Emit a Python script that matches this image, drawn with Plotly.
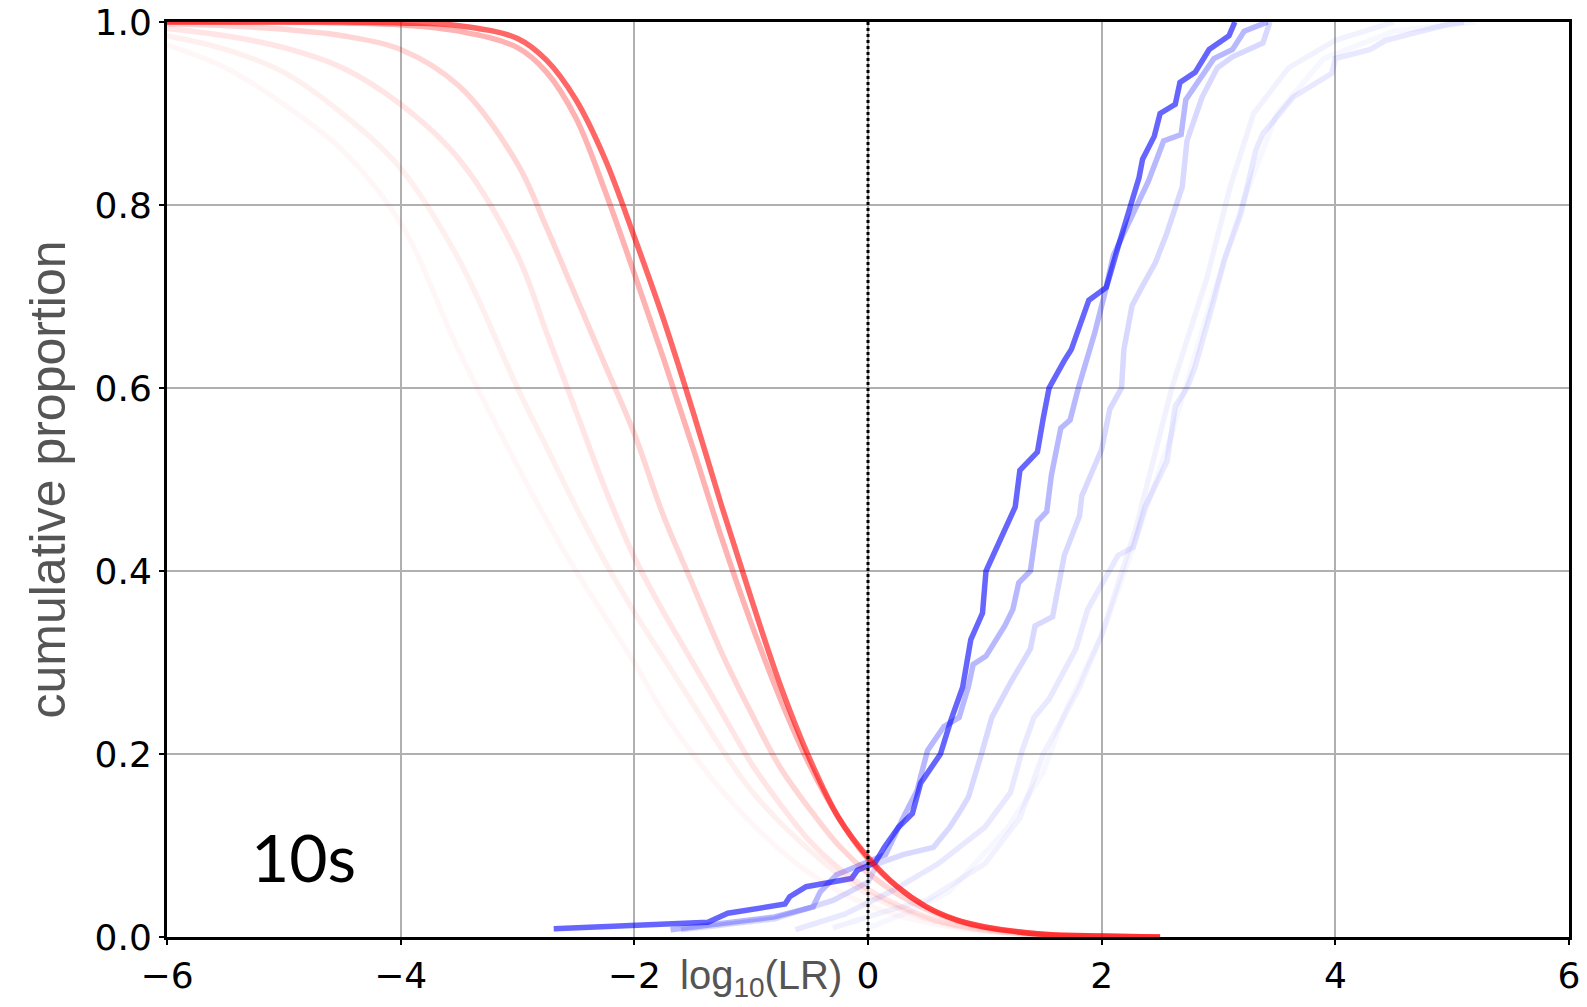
import plotly.graph_objects as go

# ---------------- data ----------------
red_x = [-6, -5.5, -5, -4.5, -4, -3.5, -3, -2.75, -2.5, -2.25, -2, -1.75, -1.5,
         -1.25, -1, -0.75, -0.5, -0.25, 0, 0.25, 0.5, 0.75, 1, 1.5, 2, 2.5]

red_a = [1.0, 1.0, 1.0, 1.0, 0.999, 0.996, 0.982, 0.958, 0.915, 0.85, 0.765, 0.675, 0.575,
         0.47, 0.37, 0.275, 0.195, 0.13, 0.087, 0.055, 0.033, 0.019, 0.011, 0.003, 0.001, 0.0]
red_b = [1.0, 1.0, 1.0, 0.999, 0.997, 0.99, 0.972, 0.945, 0.895, 0.815, 0.725, 0.632, 0.535,
         0.435, 0.343, 0.26, 0.188, 0.13, 0.085, 0.055, 0.033, 0.019, 0.011, 0.003, 0.001, 0.0]
red_c = [0.998, 0.996, 0.992, 0.985, 0.97, 0.93, 0.845, 0.775, 0.7, 0.625, 0.55, 0.46, 0.385,
         0.31, 0.245, 0.185, 0.14, 0.1, 0.07, 0.047, 0.03, 0.018, 0.01, 0.003, 0.001, 0.0]
red_d = [0.993, 0.985, 0.972, 0.95, 0.91, 0.85, 0.745, 0.66, 0.575, 0.49, 0.415, 0.355, 0.3,
         0.245, 0.19, 0.145, 0.105, 0.075, 0.052, 0.035, 0.022, 0.013, 0.008, 0.002, 0.001, 0.0]
red_e = [0.985, 0.97, 0.945, 0.9, 0.84, 0.74, 0.6, 0.535, 0.47, 0.41, 0.355, 0.305, 0.255,
         0.205, 0.16, 0.125, 0.095, 0.068, 0.047, 0.032, 0.02, 0.012, 0.007, 0.002, 0.001, 0.0]
red_f = [0.975, 0.95, 0.91, 0.86, 0.78, 0.64, 0.515, 0.455, 0.4, 0.35, 0.3, 0.245, 0.2,
         0.16, 0.125, 0.095, 0.07, 0.05, 0.035, 0.024, 0.016, 0.01, 0.006, 0.002, 0.0, 0.0]

blue_a_x = [-2.69, -1.37, -1.2, -0.71, -0.67, -0.53, -0.14, -0.09, 0.06, 0.14, 0.26, 0.38, 0.45,
            0.62, 0.71, 0.81, 0.88, 0.98, 1.01, 1.1, 1.26, 1.3, 1.45, 1.5, 1.55, 1.68, 1.74,
            1.89, 2.04, 2.14, 2.25, 2.32, 2.35, 2.45, 2.5, 2.63, 2.67, 2.8, 2.92, 3.09, 3.14]
blue_a_y = [0.009, 0.016, 0.026, 0.036, 0.044, 0.055, 0.064, 0.073, 0.081, 0.098, 0.12, 0.135, 0.168,
            0.2, 0.237, 0.273, 0.325, 0.354, 0.4, 0.426, 0.47, 0.51, 0.53, 0.567, 0.6, 0.63, 0.642,
            0.696, 0.71, 0.754, 0.8, 0.83, 0.85, 0.875, 0.9, 0.91, 0.934, 0.945, 0.97, 0.985, 1.0]

blue_b_x = [-1.69, -1.2, -0.8, -0.47, -0.41, -0.27, -0.07, 0.04, 0.15, 0.3, 0.42, 0.45, 0.51,
            0.65, 0.78, 0.86, 0.9, 1.01, 1.12, 1.17, 1.24, 1.29, 1.39, 1.45, 1.53, 1.57, 1.65,
            1.73, 1.8, 1.94, 2.02, 2.1, 2.4, 2.53, 2.68, 2.72, 2.8, 2.96, 3.12, 3.22, 3.42]
blue_b_y = [0.008, 0.015, 0.022, 0.033, 0.049, 0.068, 0.079, 0.084, 0.09, 0.13, 0.16, 0.175, 0.204,
            0.23, 0.24, 0.274, 0.298, 0.307, 0.328, 0.34, 0.358, 0.387, 0.4, 0.454, 0.465, 0.505, 0.556,
            0.565, 0.6, 0.66, 0.7, 0.745, 0.826, 0.87, 0.877, 0.915, 0.93, 0.96, 0.97, 0.99, 1.0]

blue_c_x = [-1.6, -0.8, -0.3, 0.0, 0.08, 0.3, 0.56, 0.7, 0.8, 0.86, 0.98, 1.06, 1.22, 1.39,
            1.43, 1.58, 1.68, 1.81, 1.83, 2.0, 2.07, 2.17, 2.19, 2.26, 2.33, 2.46, 2.56, 2.69,
            2.73, 2.83, 2.86, 2.99, 3.12, 3.38, 3.44]
blue_c_y = [0.008, 0.02, 0.04, 0.06, 0.08, 0.09, 0.098, 0.12, 0.14, 0.153, 0.204, 0.24, 0.278, 0.315,
            0.34, 0.35, 0.417, 0.46, 0.482, 0.533, 0.577, 0.6, 0.642, 0.69, 0.707, 0.737, 0.77, 0.82,
            0.87, 0.904, 0.918, 0.95, 0.962, 0.977, 1.0]

blue_d_x = [-0.62, -0.2, 0.2, 0.6, 1.0, 1.22, 1.32, 1.42, 1.55, 1.68, 1.78, 1.88, 2.01, 2.14,
            2.27, 2.37, 2.56, 2.63, 2.73, 2.8, 2.96, 3.05, 3.19, 3.25, 3.32, 3.38, 3.64, 3.97,
            4.0, 4.3, 4.43, 4.95, 5.1]
blue_d_y = [0.008, 0.025, 0.05, 0.08, 0.12, 0.158, 0.204, 0.24, 0.26, 0.29, 0.315, 0.358, 0.387, 0.417,
            0.426, 0.47, 0.52, 0.58, 0.6, 0.623, 0.696, 0.74, 0.79, 0.82, 0.86, 0.878, 0.918, 0.944,
            0.96, 0.97, 0.98, 0.997, 1.0]

blue_e_x = [-0.3, 0.2, 0.5, 1.0, 1.3, 1.5, 1.8, 2.0, 2.3, 2.6, 2.9, 3.1, 3.3, 3.6, 4.0, 4.5]
blue_e_y = [0.01, 0.03, 0.04, 0.08, 0.13, 0.2, 0.27, 0.33, 0.45, 0.6, 0.72, 0.82, 0.9, 0.95, 0.98, 1.0]

blue_f_x = [0.0, 0.4, 0.7, 1.2, 1.5, 1.7, 2.0, 2.2, 2.6, 2.9, 3.2, 3.5, 3.9, 4.5, 5.2]
blue_f_y = [0.01, 0.03, 0.05, 0.12, 0.18, 0.25, 0.33, 0.4, 0.55, 0.68, 0.8, 0.9, 0.96, 0.99, 1.0]

red_series = [red_f, red_e, red_d, red_c, red_b, red_a]
red_alpha = [0.03, 0.06, 0.1, 0.16, 0.3, 0.6]
blue_series = [(blue_f_x, blue_f_y), (blue_e_x, blue_e_y), (blue_d_x, blue_d_y),
               (blue_c_x, blue_c_y), (blue_b_x, blue_b_y), (blue_a_x, blue_a_y)]
blue_alpha = [0.03, 0.05, 0.09, 0.15, 0.28, 0.6]

x_ticks = [-6, -4, -2, 0, 2, 4, 6]
y_ticks = [0.0, 0.2, 0.4, 0.6, 0.8, 1.0]

# ---------------- figure ----------------
fig = go.Figure()

for (bx, by), a in zip(blue_series, blue_alpha):
    fig.add_trace(go.Scatter(x=bx, y=by, mode="lines",
                             line=dict(color=f"rgba(0,0,255,{a})", width=5.5),
                             hoverinfo="skip", showlegend=False))

for ry, a in zip(red_series, red_alpha):
    fig.add_trace(go.Scatter(x=red_x, y=ry, mode="lines",
                             line=dict(color=f"rgba(255,0,0,{a})", width=5.5,
                                       shape="spline", smoothing=1.0),
                             hoverinfo="skip", showlegend=False))

fig.add_vline(x=0, line=dict(color="black", width=3, dash="dot"), layer="above")

fig.add_annotation(text="log<sub>10</sub>(LR)", xref="paper", yref="paper",
                   x=0.4237, y=-0.045, xanchor="center", yanchor="middle",
                   showarrow=False, font=dict(family="Liberation Sans", size=40, color="#555555"))
fig.add_annotation(text="10s", xref="x", yref="y", x=-4.83, y=0.088,
                   xanchor="center", yanchor="middle", showarrow=False,
                   font=dict(family="Lato", size=66, color="black"))

axis_common = dict(showline=True, linecolor="black", linewidth=3, mirror=True,
                   showgrid=True, gridcolor="#b0b0b0", gridwidth=1.5,
                   ticks="outside", ticklen=5, tickwidth=2, tickcolor="black",
                   tickfont=dict(family="DejaVu Sans", size=36, color="black"),
                   zeroline=False, automargin=False)

fig.update_xaxes(range=[-6, 6], tickvals=x_ticks, **axis_common)
fig.update_yaxes(range=[0, 1], tickvals=y_ticks, tickformat=".1f",
                 title=dict(text="cumulative proportion", standoff=14,
                            font=dict(family="Liberation Sans", size=50, color="#555555")),
                 **axis_common)

fig.update_layout(width=1587, height=1007, margin=dict(l=167, r=18, t=22, b=70),
                  plot_bgcolor="white", paper_bgcolor="white")

fig.write_html("out.html")
